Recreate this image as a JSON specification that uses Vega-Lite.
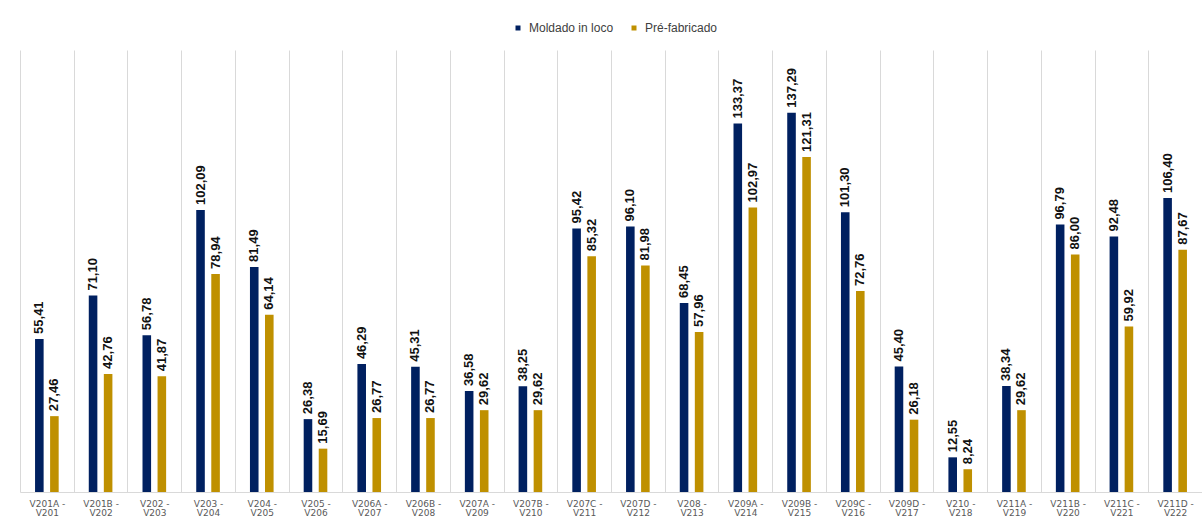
{
  "$schema": "https://vega.github.io/schema/vega-lite/v6.json",
  "width": 1182,
  "height": 442,
  "autosize": {"type": "none"},
  "padding": {"left": 20, "top": 50, "right": 0, "bottom": 26},
  "background": "white",
  "config": {
    "view": {"stroke": null},
    "font": "Liberation Sans",
    "locale": {"number": {"decimal": ",", "thousands": ".", "grouping": [3], "currency": ["", ""]}}
  },
  "data": {
    "values": [
      {"trecho": "V201A - V201", "tipo": "Moldado in loco", "valor": 55.41},
      {"trecho": "V201A - V201", "tipo": "Pré-fabricado", "valor": 27.46},
      {"trecho": "V201B - V202", "tipo": "Moldado in loco", "valor": 71.10},
      {"trecho": "V201B - V202", "tipo": "Pré-fabricado", "valor": 42.76},
      {"trecho": "V202 - V203", "tipo": "Moldado in loco", "valor": 56.78},
      {"trecho": "V202 - V203", "tipo": "Pré-fabricado", "valor": 41.87},
      {"trecho": "V203 - V204", "tipo": "Moldado in loco", "valor": 102.09},
      {"trecho": "V203 - V204", "tipo": "Pré-fabricado", "valor": 78.94},
      {"trecho": "V204 - V205", "tipo": "Moldado in loco", "valor": 81.49},
      {"trecho": "V204 - V205", "tipo": "Pré-fabricado", "valor": 64.14},
      {"trecho": "V205 - V206", "tipo": "Moldado in loco", "valor": 26.38},
      {"trecho": "V205 - V206", "tipo": "Pré-fabricado", "valor": 15.69},
      {"trecho": "V206A - V207", "tipo": "Moldado in loco", "valor": 46.29},
      {"trecho": "V206A - V207", "tipo": "Pré-fabricado", "valor": 26.77},
      {"trecho": "V206B - V208", "tipo": "Moldado in loco", "valor": 45.31},
      {"trecho": "V206B - V208", "tipo": "Pré-fabricado", "valor": 26.77},
      {"trecho": "V207A - V209", "tipo": "Moldado in loco", "valor": 36.58},
      {"trecho": "V207A - V209", "tipo": "Pré-fabricado", "valor": 29.62},
      {"trecho": "V207B - V210", "tipo": "Moldado in loco", "valor": 38.25},
      {"trecho": "V207B - V210", "tipo": "Pré-fabricado", "valor": 29.62},
      {"trecho": "V207C - V211", "tipo": "Moldado in loco", "valor": 95.42},
      {"trecho": "V207C - V211", "tipo": "Pré-fabricado", "valor": 85.32},
      {"trecho": "V207D - V212", "tipo": "Moldado in loco", "valor": 96.10},
      {"trecho": "V207D - V212", "tipo": "Pré-fabricado", "valor": 81.98},
      {"trecho": "V208 - V213", "tipo": "Moldado in loco", "valor": 68.45},
      {"trecho": "V208 - V213", "tipo": "Pré-fabricado", "valor": 57.96},
      {"trecho": "V209A - V214", "tipo": "Moldado in loco", "valor": 133.37},
      {"trecho": "V209A - V214", "tipo": "Pré-fabricado", "valor": 102.97},
      {"trecho": "V209B - V215", "tipo": "Moldado in loco", "valor": 137.29},
      {"trecho": "V209B - V215", "tipo": "Pré-fabricado", "valor": 121.31},
      {"trecho": "V209C - V216", "tipo": "Moldado in loco", "valor": 101.30},
      {"trecho": "V209C - V216", "tipo": "Pré-fabricado", "valor": 72.76},
      {"trecho": "V209D - V217", "tipo": "Moldado in loco", "valor": 45.40},
      {"trecho": "V209D - V217", "tipo": "Pré-fabricado", "valor": 26.18},
      {"trecho": "V210 - V218", "tipo": "Moldado in loco", "valor": 12.55},
      {"trecho": "V210 - V218", "tipo": "Pré-fabricado", "valor": 8.24},
      {"trecho": "V211A - V219", "tipo": "Moldado in loco", "valor": 38.34},
      {"trecho": "V211A - V219", "tipo": "Pré-fabricado", "valor": 29.62},
      {"trecho": "V211B - V220", "tipo": "Moldado in loco", "valor": 96.79},
      {"trecho": "V211B - V220", "tipo": "Pré-fabricado", "valor": 86.00},
      {"trecho": "V211C - V221", "tipo": "Moldado in loco", "valor": 92.48},
      {"trecho": "V211C - V221", "tipo": "Pré-fabricado", "valor": 59.92},
      {"trecho": "V211D - V222", "tipo": "Moldado in loco", "valor": 106.40},
      {"trecho": "V211D - V222", "tipo": "Pré-fabricado", "valor": 87.67}
    ]
  },
  "encoding": {
    "x": {
      "field": "trecho",
      "type": "nominal",
      "sort": null,
      "scale": {"paddingInner": 0, "paddingOuter": 0},
      "axis": {
        "title": null,
        "labelAngle": 0,
        "labelExpr": "datum.value ? [split(datum.value, ' - ')[0] + ' -', split(datum.value, ' - ')[1]] : ''",
        "labelFont": "DejaVu Sans",
        "labelFontSize": 9,
        "labelColor": "#595959",
        "labelLineHeight": 9,
        "labelBaseline": "top",
        "labelPadding": 7,
        "labelOverlap": false,
        "ticks": false,
        "grid": true,
        "tickBand": "extent",
        "gridColor": "#d9d9d9",
        "gridWidth": 1,
        "domainColor": "#d9d9d9",
        "domainWidth": 1
      }
    },
    "xOffset": {
      "field": "tipo",
      "type": "nominal",
      "sort": ["Moldado in loco", "Pré-fabricado"],
      "scale": {"paddingInner": 0.43, "paddingOuter": 1.133}
    },
    "y": {
      "field": "valor",
      "type": "quantitative",
      "scale": {"domain": [0, 160], "nice": false},
      "axis": null
    }
  },
  "layer": [
    {
      "mark": {"type": "bar"},
      "encoding": {
        "color": {
          "field": "tipo",
          "type": "nominal",
          "sort": ["Moldado in loco", "Pré-fabricado"],
          "scale": {"domain": ["Moldado in loco", "Pré-fabricado"], "range": ["#002060", "#BF9000"]},
          "legend": {
            "title": null,
            "orient": "none",
            "direction": "horizontal",
            "legendX": 492,
            "legendY": -28,
            "symbolType": "square",
            "symbolSize": 25,
            "symbolStrokeWidth": 0,
            "labelFont": "Liberation Sans",
            "labelFontSize": 12,
            "labelColor": "#404040",
            "labelOffset": 5,
            "columnPadding": 14
          }
        }
      }
    },
    {
      "mark": {
        "type": "text",
        "angle": 270,
        "align": "left",
        "baseline": "middle",
        "dx": 5,
        "font": "Liberation Sans",
        "fontSize": 13,
        "fontWeight": "bold",
        "color": "#111111"
      },
      "encoding": {
        "text": {"field": "valor", "type": "quantitative", "format": ".2f"}
      }
    }
  ]
}
